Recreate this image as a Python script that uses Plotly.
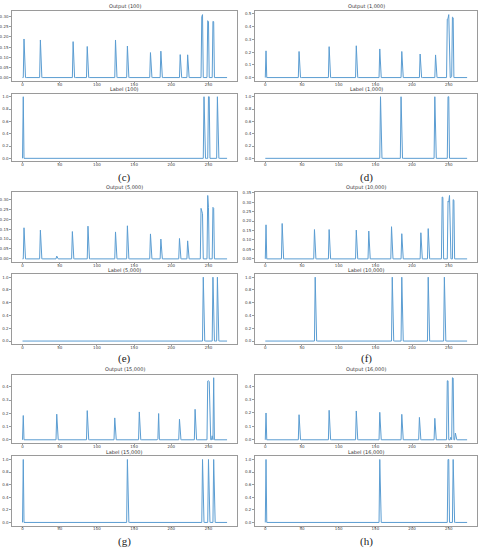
import plotly.graph_objects as go
from plotly.subplots import make_subplots

# sample index axis (0..275)
N = 276
x = list(range(N))

# peaks: positions and heights, all other samples are 0
out_100_pos = [2, 24, 68, 87, 125, 141, 172, 186, 212, 222, 241, 242, 249, 250, 256, 257]
out_100_val = [0.19, 0.185, 0.177, 0.153, 0.185, 0.155, 0.123, 0.13, 0.113, 0.112,
               0.30, 0.31, 0.28, 0.275, 0.277, 0.275]
lab_100_pos = [1, 244, 250, 251, 262]

out_1000_pos = [1, 46, 87, 124, 156, 186, 211, 232, 248, 249, 250, 254, 255, 256]
out_1000_val = [0.21, 0.205, 0.243, 0.25, 0.225, 0.205, 0.185, 0.178,
                0.46, 0.465, 0.495, 0.01, 0.475, 0.47]
lab_1000_pos = [157, 185, 231, 249, 250]

out_5000_pos = [2, 24, 46, 67, 88, 125, 141, 172, 186, 211, 222, 240, 241, 242, 249, 250, 256, 257]
out_5000_val = [0.157, 0.145, 0.014, 0.138, 0.165, 0.136, 0.167, 0.126, 0.10, 0.103, 0.091,
                0.255, 0.24, 0.228, 0.32, 0.26, 0.26, 0.255]
lab_5000_pos = [243, 256, 262]

out_10000_pos = [1, 23, 67, 87, 124, 141, 172, 186, 212, 222, 241, 242, 249, 250, 251, 256, 257]
out_10000_val = [0.18, 0.187, 0.155, 0.155, 0.152, 0.147, 0.17, 0.133, 0.138, 0.16,
                 0.327, 0.325, 0.305, 0.30, 0.335, 0.313, 0.31]
lab_10000_pos = [68, 173, 186, 222, 244]

out_15000_pos = [1, 46, 87, 124, 157, 182, 183, 211, 232, 249, 250, 251, 255, 257]
out_15000_val = [0.183, 0.193, 0.22, 0.165, 0.21, 0.01, 0.198, 0.155, 0.23,
                 0.443, 0.445, 0.44, 0.03, 0.468]
lab_15000_pos = [1, 141, 242, 250, 257]

out_16000_pos = [1, 46, 87, 124, 156, 186, 210, 231, 248, 249, 253, 255, 256, 259]
out_16000_val = [0.2, 0.187, 0.22, 0.215, 0.205, 0.19, 0.167, 0.16,
                 0.44, 0.44, 0.02, 0.463, 0.46, 0.05]
lab_16000_pos = [1, 156, 249, 250, 256]

runs = ["100", "1,000", "5,000", "10,000", "15,000", "16,000"]
outputs = [(out_100_pos, out_100_val), (out_1000_pos, out_1000_val),
           (out_5000_pos, out_5000_val), (out_10000_pos, out_10000_val),
           (out_15000_pos, out_15000_val), (out_16000_pos, out_16000_val)]
labels = [lab_100_pos, lab_1000_pos, lab_5000_pos, lab_10000_pos, lab_15000_pos, lab_16000_pos]
letters = ["(c)", "(d)", "(e)", "(f)", "(g)", "(h)"]
out_dtick = [0.05, 0.1, 0.05, 0.05, 0.1, 0.1]
out_fmt = [".2f", ".1f", ".2f", ".2f", ".1f", ".1f"]


def series(pos, val):
    y = [0.0] * N
    for p, v in zip(pos, val):
        y[p] = v
    return y


W, H = 485, 550
col_px = [(12.3, 237.3), (255.2, 477.2)]
# (top, bottom) pixel rows for output/label axes of each block row
row_px = [((9.5, 79), (92, 160)), ((191, 261), (273, 343.5)), ((374, 442.5), (456, 525.5))]
letter_y = [176.5, 358, 541]


def px_x(v):
    return v / W


def px_y(v):
    return 1 - v / H


LINE = "#5b9dd2"
FRAME = "#9a9a9a"
FONT = "DejaVu Sans"

fig = make_subplots(rows=6, cols=2)
annotations = []

for i, run in enumerate(runs):
    block, col = divmod(i, 2)
    x0, x1 = col_px[col]
    for j, (kind, ys, fmt, dt) in enumerate([
        ("Output", series(*outputs[i]), out_fmt[i], out_dtick[i]),
        ("Label", series(labels[i], [1.0] * len(labels[i])), ".1f", 0.2),
    ]):
        r = block * 2 + j + 1
        top, bot = row_px[block][j]
        fig.add_trace(go.Scatter(x=x, y=ys, mode="lines", line=dict(color=LINE, width=1),
                                 showlegend=False, hoverinfo="skip"), row=r, col=col + 1)
        ymax = max(ys)
        fig.update_xaxes(domain=[px_x(x0), px_x(x1)], range=[-13.75, 288.75],
                         tickvals=[0, 50, 100, 150, 200, 250], row=r, col=col + 1)
        fig.update_yaxes(domain=[px_y(bot), px_y(top)], range=[-0.05 * ymax, 1.05 * ymax],
                         dtick=dt, tick0=0, tickformat=fmt, row=r, col=col + 1)
        annotations.append(dict(text=f"{kind} ({run})", x=px_x((x0 + x1) / 2), y=px_y(top - 0.3),
                                xref="paper", yref="paper", xanchor="center", yanchor="bottom",
                                borderpad=0, showarrow=False,
                                font=dict(family=FONT, size=5, color="#333")))
    annotations.append(dict(text=letters[i], x=px_x((x0 + x1) / 2), y=px_y(letter_y[block]),
                            xref="paper", yref="paper", xanchor="center", yanchor="middle",
                            borderpad=0, showarrow=False,
                            font=dict(family="Liberation Serif", size=11, color="#222")))

axis_style = dict(showline=True, mirror=True, linecolor=FRAME, linewidth=1, showgrid=False,
                  zeroline=False, ticks="outside", tickwidth=1, tickcolor=FRAME,
                  tickfont=dict(family=FONT, size=4, color="#444"))
fig.update_xaxes(**axis_style, ticklen=1, ticklabelstandoff=-2)
fig.update_yaxes(**axis_style, ticklen=2)
fig.update_layout(
    width=W, height=H,
    margin=dict(l=0, r=0, t=0, b=0),
    paper_bgcolor="white", plot_bgcolor="white",
    annotations=annotations,
)
# drop the browser's default page margin so the figure sits at the window's corner
fig.write_html("out.html", config={"displayModeBar": False},
               post_script="document.body.style.margin = '0';")
